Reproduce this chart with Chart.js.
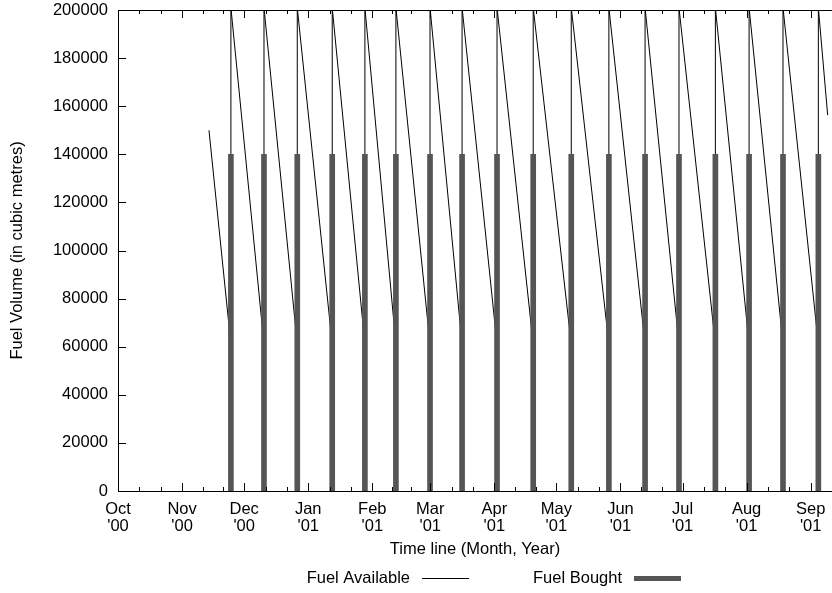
<!DOCTYPE html>
<html>
<head>
<meta charset="utf-8">
<script src="https://cdn.jsdelivr.net/npm/chart.js@4/dist/chart.umd.min.js"></script>
<style>
    html, body { margin: 0; padding: 0; background: #fff; }
    canvas { display: block; }
</style>
</head>
<body>
<canvas id="fuelChart" width="832" height="593"></canvas>
<script>
// Days counted from 1 Oct 2000
const monthStartDays = [0, 31, 61, 92, 123, 151, 182, 212, 243, 273, 304, 335];
const monthNames = ['Oct', 'Nov', 'Dec', 'Jan', 'Feb', 'Mar', 'Apr', 'May', 'Jun', 'Jul', 'Aug', 'Sep'];
const yearNames = ["'00", "'00", "'00", "'01", "'01", "'01", "'01", "'01", "'01", "'01", "'01", "'01"];

// Fuel deliveries (impulses)
const deliveryDays = [54.6, 70.6, 86.7, 103.6, 119.4, 134.4, 150.9, 166.4, 183.3,
    200.8, 219.2, 237.4, 254.9, 271.3, 288.9, 305.2, 321.6, 338.7];
const deliveryVolumes = [140000, 140000, 140000, 140000, 140000, 140000, 140000, 140000, 140000,
    140000, 140000, 140000, 140000, 140000, 140000, 140000, 140000, 140000];

// Fuel available just before and just after each delivery
const levelBefore = [61000, 61000, 61000, 61000, 61000, 61000, 61000, 61000, 61000,
    61000, 61000, 61000, 61000, 61000, 61000, 61000, 61000, 61000];
const levelAfter = [201000, 201000, 201000, 201000, 201000, 201000, 201000, 201000, 201000,
    201000, 201000, 201000, 201000, 201000, 201000, 201000, 201000, 201000];

const firstDay = 44.0, firstLevel = 150000;
const lastDay = 343.2, lastLevel = 156300;

const yTicks = [0, 20000, 40000, 60000, 80000, 100000, 120000, 140000, 160000, 180000, 200000];

const FONT = 'Liberation Sans, Arial, Helvetica, sans-serif';
const FONT_SIZE = 16.5;

// build the sawtooth line from the read values
const availablePoints = [{ x: firstDay, y: firstLevel }];
deliveryDays.forEach((d, i) => {
    availablePoints.push({ x: d, y: levelBefore[i] });
    availablePoints.push({ x: d, y: levelAfter[i] });
});
availablePoints.push({ x: lastDay, y: lastLevel });

const boughtPoints = deliveryDays.map((d, i) => ({ x: d, y: deliveryVolumes[i] }));

// gnuplot-like frame: inward ticks on bottom, top and left, plus top border, plus legend
const framePlugin = {
    id: 'frame',
    afterDatasetsDraw(chart) {
        const { ctx, chartArea } = chart;
        const xs = chart.scales.x, ys = chart.scales.y;
        ctx.save();
        ctx.strokeStyle = '#000';
        ctx.lineWidth = 1;
        ctx.beginPath();
        // top border
        ctx.moveTo(chartArea.left, Math.round(chartArea.top) + 0.5);
        ctx.lineTo(chartArea.right, Math.round(chartArea.top) + 0.5);
        // month ticks (major) and thirds (minor)
        monthStartDays.forEach((d, i) => {
            const next = i + 1 < monthStartDays.length ? monthStartDays[i + 1] : d + 31;
            const marks = [[d, 8], [d + (next - d) / 3, 4], [d + 2 * (next - d) / 3, 4]];
            marks.forEach(([v, len]) => {
                const px = Math.round(xs.getPixelForValue(v)) + 0.5;
                if (px < chartArea.left || px > chartArea.right) return;
                ctx.moveTo(px, chartArea.bottom);
                ctx.lineTo(px, chartArea.bottom - len);
                ctx.moveTo(px, chartArea.top);
                ctx.lineTo(px, chartArea.top + len);
            });
        });
        // y ticks
        yTicks.forEach(v => {
            const py = Math.round(ys.getPixelForValue(v)) + 0.5;
            ctx.moveTo(chartArea.left, py);
            ctx.lineTo(chartArea.left + 8, py);
        });
        ctx.stroke();

        // legend
        ctx.font = FONT_SIZE + 'px ' + FONT;
        ctx.fillStyle = '#000';
        ctx.textAlign = 'right';
        ctx.textBaseline = 'middle';
        const ly = 578;
        const entries = [
            { ds: chart.data.datasets[0], right: 410 },
            { ds: chart.data.datasets[1], right: 622 }
        ];
        entries.forEach(e => {
            ctx.fillText(e.ds.label, e.right, ly);
            ctx.beginPath();
            ctx.strokeStyle = e.ds.type === 'bar' ? e.ds.backgroundColor : e.ds.borderColor;
            ctx.lineWidth = e.ds.type === 'bar' ? 5 : 1;
            ctx.moveTo(e.right + 12, ly + 0.5);
            ctx.lineTo(e.right + 59, ly + 0.5);
            ctx.stroke();
        });
        ctx.restore();
    }
};

new Chart(document.getElementById('fuelChart'), {
    type: 'line',
    data: {
        datasets: [
            {
                type: 'line',
                label: 'Fuel Available',
                data: availablePoints,
                borderColor: '#000',
                borderWidth: 1,
                pointRadius: 0,
                tension: 0,
                fill: false,
                order: 2
            },
            {
                type: 'bar',
                label: 'Fuel Bought',
                data: boughtPoints,
                backgroundColor: '#555555',
                borderWidth: 0,
                barThickness: 5,
                order: 1
            }
        ]
    },
    options: {
        responsive: false,
        animation: false,
        events: [],
        layout: { padding: { top: 10, left: 0, right: 0, bottom: 0 } },
        plugins: {
            legend: { display: false },
            tooltip: { enabled: false }
        },
        scales: {
            x: {
                type: 'linear',
                min: 0,
                max: 345.3,
                offset: false,
                grid: { display: false, drawTicks: false },
                border: { display: true, color: '#000', width: 1 },
                afterBuildTicks: scale => {
                    scale.ticks = monthStartDays.map(v => ({ value: v }));
                },
                afterFit: scale => {
                    scale.height = 102;
                    scale.paddingLeft = 0;
                    scale.paddingRight = 0;
                },
                ticks: {
                    autoSkip: false,
                    maxRotation: 0,
                    padding: 10,
                    color: '#000',
                    font: { family: FONT, size: FONT_SIZE, lineHeight: 1.01 },
                    callback: (value) => {
                        const i = monthStartDays.indexOf(value);
                        return i >= 0 ? [monthNames[i], yearNames[i]] : '';
                    }
                },
                title: {
                    display: true,
                    text: 'Time line (Month, Year)',
                    color: '#000',
                    font: { family: FONT, size: FONT_SIZE },
                    padding: { top: 0, bottom: 34 }
                }
            },
            y: {
                min: 0,
                max: 200000,
                grid: { display: false, drawTicks: false },
                border: { display: true, color: '#000', width: 1 },
                afterBuildTicks: scale => {
                    scale.ticks = yTicks.map(v => ({ value: v }));
                },
                afterFit: scale => {
                    scale.width = 118;
                    scale.paddingTop = 0;
                    scale.paddingBottom = 0;
                },
                ticks: {
                    padding: 10,
                    color: '#000',
                    font: { family: FONT, size: FONT_SIZE },
                    callback: v => String(v)
                },
                title: {
                    display: true,
                    text: 'Fuel Volume (in cubic metres)',
                    color: '#000',
                    font: { family: FONT, size: FONT_SIZE },
                    padding: { top: 8, bottom: 0 }
                }
            }
        }
    },
    plugins: [framePlugin]
});
</script>
</body>
</html>
